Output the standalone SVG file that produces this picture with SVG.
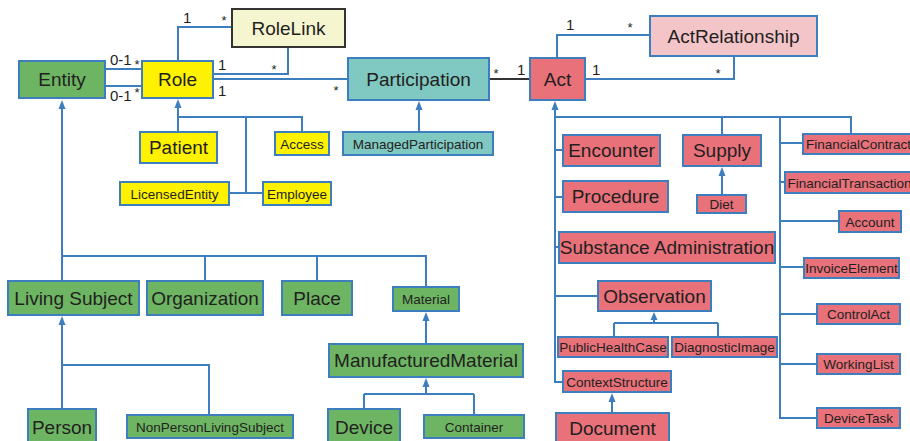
<svg xmlns="http://www.w3.org/2000/svg" width="910" height="441" viewBox="0 0 910 441">
<style>
text{font-family:"Liberation Sans",Arial,sans-serif;fill:#231f20;text-anchor:middle}
.b{font-size:19px}
.s{font-size:13.5px}
.m{font-size:15px;text-anchor:start}
.st{font-size:13px;text-anchor:middle}
rect{stroke:#3d7ebf;stroke-width:2}
.g{fill:#6db563}
.y{fill:#fff200}
.t{fill:#80c8c2}
.r{fill:#e8717a}
.p{fill:#f3c5c9}
.c path,.c line{fill:none;stroke:#3d7ebf;stroke-width:2}
.c polygon{fill:#3d7ebf;stroke:none}
</style>
<g class="c" id="connectors">
<line x1="105" y1="69" x2="142" y2="69"/>
<line x1="105" y1="86" x2="142" y2="86"/>
<path d="M178,61V27H232"/>
<path d="M288,47V74H213"/>
<path d="M213,79H348"/>
<line x1="489" y1="79" x2="530" y2="79" style="stroke:#333"/>
<path d="M557,58V35H650"/>
<path d="M734,56V79H585"/>
<polygon points="178,99 174.5,108 181.5,108"/>
<path d="M178,108V132M178,117H302V132M246,117V193M229,193H263"/>
<polygon points="62,100 58.5,109 65.5,109"/>
<path d="M62,109V281M62,256H426V287M205,256V281M317,256V281"/>
<polygon points="62,316 58.5,325 65.5,325"/>
<path d="M62,325V409M62,365H209V415"/>
<polygon points="426,312 422.5,321 429.5,321"/>
<path d="M426,321V344"/>
<polygon points="426,378 422.5,387 429.5,387"/>
<path d="M426,387V394M364,394H474M364,394V409M474,394V415"/>
<polygon points="419,101 415.5,110 422.5,110"/>
<path d="M419,110V132"/>
<polygon points="555,101 551.5,110 558.5,110"/>
<path d="M555,110V382H563M555,117H851V134M722,117V135M780,117V418H817"/>
<path d="M555,150H563M555,197H563M555,247H559M555,296H598"/>
<path d="M780,143H803M780,182H785M780,221H839M780,267H804M780,314H817M780,364H817"/>
<polygon points="722,167 718.5,176 725.5,176"/>
<path d="M722,176V195"/>
<polygon points="654,312 650.5,320 657.5,320"/>
<path d="M654,320V323M614,323H718M614,323V337M718,323V337"/>
<polygon points="612,393 608.5,402 615.5,402"/>
<path d="M612,402V413"/>
<text class="m" x="110" y="65">0-1</text>
<text class="st" x="137" y="69">*</text>
<text class="m" x="110" y="101">0-1</text>
<text class="st" x="137" y="97">*</text>
<text class="m" x="183" y="23">1</text>
<text class="st" x="224" y="25">*</text>
<text class="m" x="218" y="70">1</text>
<text class="st" x="274" y="74">*</text>
<text class="m" x="218" y="96">1</text>
<text class="st" x="336" y="95">*</text>
<text class="st" x="496" y="78">*</text>
<text class="m" x="517" y="75">1</text>
<text class="m" x="566" y="30">1</text>
<text class="st" x="630" y="32">*</text>
<text class="m" x="592" y="75">1</text>
<text class="st" x="718" y="78">*</text>
</g>
<g id="Entity"><rect class="g" x="19" y="61" width="86" height="37"/><text class="b" x="62" y="86">Entity</text></g>
<g id="Role"><rect class="y" x="142" y="61" width="71" height="37"/><text class="b" x="177.5" y="86">Role</text></g>
<g id="RoleLink"><rect x="232" y="9" width="113" height="38" style="fill:#f5f5d0;stroke:#333"/><text class="b" x="288.5" y="34.5">RoleLink</text></g>
<g id="Participation"><rect class="t" x="348" y="58" width="141" height="42"/><text class="b" x="418.5" y="85.5">Participation</text></g>
<g id="Act"><rect class="r" x="530" y="58" width="55" height="42"/><text class="b" x="557.5" y="85.5">Act</text></g>
<g id="ActRelationship"><rect class="p" x="650" y="16" width="167" height="40"/><text class="b" x="733.5" y="42.5">ActRelationship</text></g>
<g id="ManagedParticipation"><rect class="t" x="343" y="132" width="150" height="23"/><text class="s" x="418" y="148.5">ManagedParticipation</text></g>
<g id="Patient"><rect class="y" x="140" y="132" width="77" height="31"/><text class="b" x="178.5" y="154">Patient</text></g>
<g id="Access"><rect class="y" x="275" y="132" width="54" height="23"/><text class="s" x="302" y="148.5">Access</text></g>
<g id="LicensedEntity"><rect class="y" x="120" y="182" width="109" height="23"/><text class="s" x="174.5" y="198.5">LicensedEntity</text></g>
<g id="Employee"><rect class="y" x="263" y="182" width="68" height="23"/><text class="s" x="297" y="198.5">Employee</text></g>
<g id="LivingSubject"><rect class="g" x="8" y="281" width="131" height="34"/><text class="b" x="73.5" y="304.5">Living Subject</text></g>
<g id="Organization"><rect class="g" x="147" y="281" width="116" height="34"/><text class="b" x="205" y="304.5">Organization</text></g>
<g id="Place"><rect class="g" x="282" y="281" width="70" height="34"/><text class="b" x="317" y="304.5">Place</text></g>
<g id="Material"><rect class="g" x="393" y="287" width="66" height="24"/><text class="s" x="426" y="303.5">Material</text></g>
<g id="ManufacturedMaterial"><rect class="g" x="329" y="344" width="194" height="33"/><text class="b" x="426" y="367">ManufacturedMaterial</text></g>
<g id="Person"><rect class="g" x="28" y="409" width="68" height="40"/><text class="b" x="62" y="433.5">Person</text></g>
<g id="NonPersonLivingSubject"><rect class="g" x="127" y="415" width="166" height="23"/><text class="s" x="210" y="431.5">NonPersonLivingSubject</text></g>
<g id="Device"><rect class="g" x="328" y="409" width="72" height="40"/><text class="b" x="364" y="433.5">Device</text></g>
<g id="Container"><rect class="g" x="424" y="415" width="100" height="23"/><text class="s" x="474" y="431.5">Container</text></g>
<g id="Encounter"><rect class="r" x="563" y="135" width="97" height="31"/><text class="b" x="611.5" y="157">Encounter</text></g>
<g id="Procedure"><rect class="r" x="563" y="181" width="105" height="31"/><text class="b" x="615.5" y="203">Procedure</text></g>
<g id="Supply"><rect class="r" x="683" y="135" width="78" height="31"/><text class="b" x="722" y="157">Supply</text></g>
<g id="Diet"><rect class="r" x="697" y="195" width="49" height="18"/><text class="s" x="721.5" y="209">Diet</text></g>
<g id="SubstanceAdministration"><rect class="r" x="559" y="232" width="216" height="31"/><text class="b" x="667" y="254">Substance Administration</text></g>
<g id="Observation"><rect class="r" x="598" y="281" width="113" height="30"/><text class="b" x="654.5" y="302.5">Observation</text></g>
<g id="PublicHealthCase"><rect class="r" x="558" y="337" width="110" height="20"/><text class="s" x="613" y="352">PublicHealthCase</text></g>
<g id="DiagnosticImage"><rect class="r" x="672" y="337" width="105" height="20"/><text class="s" x="724.5" y="352">DiagnosticImage</text></g>
<g id="ContextStructure"><rect class="r" x="563" y="371" width="108" height="21"/><text class="s" x="617" y="386.5">ContextStructure</text></g>
<g id="Document"><rect class="r" x="556" y="413" width="113" height="36"/><text class="b" x="612.5" y="434.5">Document</text></g>
<g id="FinancialContract"><rect class="r" x="803" y="134" width="111" height="20"/><text class="s" x="858.5" y="149">FinancialContract</text></g>
<g id="FinancialTransaction"><rect class="r" x="785" y="172" width="129" height="21"/><text class="s" x="849.5" y="187.5">FinancialTransaction</text></g>
<g id="Account"><rect class="r" x="839" y="211" width="62" height="21"/><text class="s" x="870" y="226.5">Account</text></g>
<g id="InvoiceElement"><rect class="r" x="804" y="258" width="95" height="20"/><text class="s" x="851.5" y="273">InvoiceElement</text></g>
<g id="ControlAct"><rect class="r" x="817" y="304" width="83" height="20"/><text class="s" x="858.5" y="319">ControlAct</text></g>
<g id="WorkingList"><rect class="r" x="817" y="354" width="83" height="20"/><text class="s" x="858.5" y="369">WorkingList</text></g>
<g id="DeviceTask"><rect class="r" x="817" y="408" width="83" height="20"/><text class="s" x="858.5" y="423">DeviceTask</text></g>
</svg>
